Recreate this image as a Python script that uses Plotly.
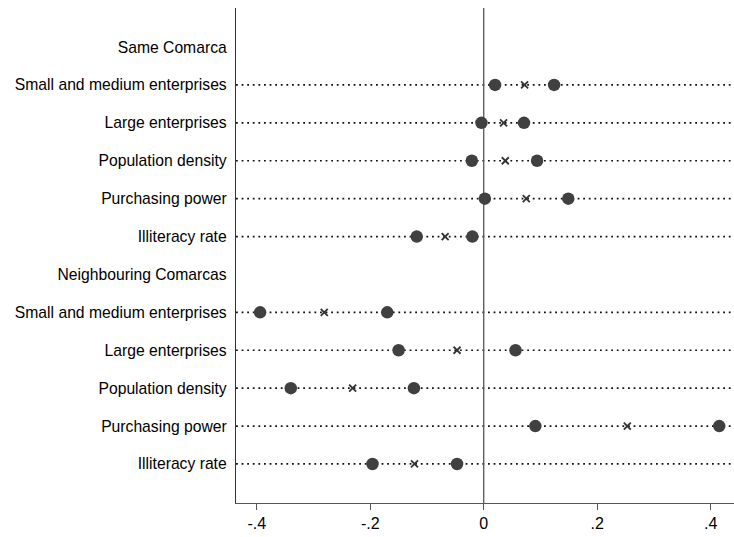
import plotly.graph_objects as go

# Row labels, top to bottom (group headers carry no estimates)
row_labels = [
    "Same Comarca",
    "Small and medium enterprises",
    "Large enterprises",
    "Population density",
    "Purchasing power",
    "Illiteracy rate",
    "Neighbouring Comarcas",
    "Small and medium enterprises",
    "Large enterprises",
    "Population density",
    "Purchasing power",
    "Illiteracy rate",
]
header_rows = [0, 6]

# Rows that carry estimates, with point estimate and confidence bounds
est_rows = [1, 2, 3, 4, 5, 7, 8, 9, 10, 11]
coef = [0.072, 0.035, 0.038, 0.075, -0.068, -0.281, -0.047, -0.231, 0.253, -0.122]
ci_low = [0.020, -0.004, -0.021, 0.002, -0.118, -0.394, -0.150, -0.340, 0.091, -0.196]
ci_high = [0.124, 0.071, 0.094, 0.149, -0.020, -0.170, 0.056, -0.123, 0.415, -0.047]

x_tickvals = [-0.4, -0.2, 0, 0.2, 0.4]
x_ticktext = ["-.4", "-.2", "0", ".2", ".4"]

fig = go.Figure()

# Dotted guide line across the full plot width for every estimate row
for r in est_rows:
    fig.add_shape(type="line", xref="paper", x0=0, x1=1, yref="y", y0=r, y1=r,
                  line=dict(color="#111111", width=1.7, dash="1.8px,3.8px"), layer="below")

# Vertical reference line at zero
fig.add_shape(type="line", xref="x", x0=0, x1=0, yref="paper", y0=0, y1=1,
              line=dict(color="#555555", width=1.3), layer="below")

# Confidence bounds (filled circles)
fig.add_trace(go.Scatter(
    x=ci_low + ci_high, y=est_rows + est_rows, mode="markers",
    marker=dict(symbol="circle", size=12.5, color="#404040", line=dict(width=0)),
    showlegend=False, hoverinfo="x+y",
))

# Point estimates (crosses)
fig.add_trace(go.Scatter(
    x=coef, y=est_rows, mode="markers",
    marker=dict(symbol="x-thin", size=7, color="#333333",
                line=dict(width=1.8, color="#333333")),
    showlegend=False, hoverinfo="x+y",
))

fig.update_layout(
    width=734, height=537,
    margin=dict(l=236, r=0, t=8, b=34),
    paper_bgcolor="white", plot_bgcolor="white",
    font=dict(family="Liberation Sans, Arial, sans-serif", color="black", size=15.7),
    xaxis=dict(
        range=[-0.4365, 0.441],
        tickvals=x_tickvals, ticktext=x_ticktext,
        ticks="outside", ticklen=6, tickwidth=1.3, tickcolor="#555555",
        showline=True, linecolor="#555555", linewidth=1.3,
        showgrid=False, zeroline=False,
        tickfont=dict(size=16),
    ),
    yaxis=dict(
        range=[12.03, -1.03],
        tickvals=list(range(len(row_labels))), ticktext=row_labels,
        ticks="", showline=True, linecolor="#333333", linewidth=1.3,
        showgrid=False, zeroline=False, ticklabelstandoff=5,
        tickfont=dict(size=15.7),
    ),
)

fig.write_html("out.html")
